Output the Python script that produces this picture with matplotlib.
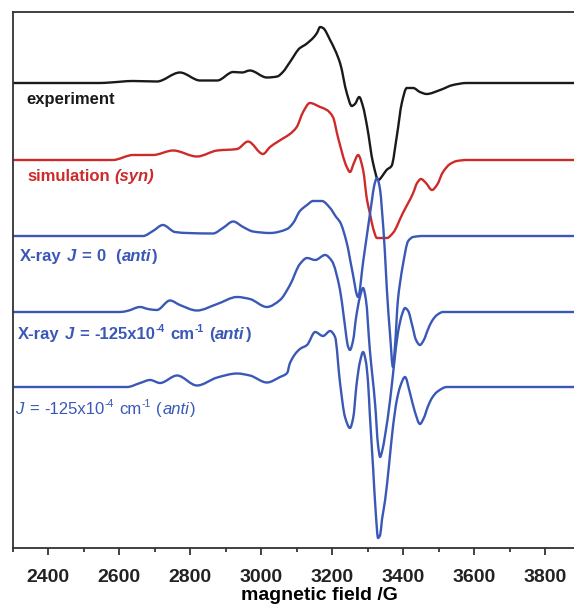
import numpy as np
import matplotlib.pyplot as plt
from matplotlib.path import Path
from matplotlib.patches import PathPatch
from matplotlib.ticker import MultipleLocator

W, H = 574, 604

# magnetic field (G) and signal (arbitrary units)
field_exp = [2300, 2546, 2574, 2639, 2706, 2771, 2828, 2876, 2921, 2946, 2968, 3016, 3045,
             3061, 3081, 3109, 3123, 3137, 3146, 3157, 3166, 3174, 3194, 3222, 3241, 3255,
             3264, 3276, 3287, 3298, 3315, 3330, 3343, 3353, 3367, 3382, 3396, 3410, 3428,
             3447, 3466, 3504, 3540, 3579, 3881]
exp = [0, 0, 0.5, 2, 1.5, 10.5, 2.5, 2.5, 11, 10.5, 12.5, 5.5, 6.5,
       11, 21, 35, 38, 42, 45, 50, 56, 55, 43, 20, -10, -23,
       -21, -14, -24, -43, -80, -97, -92, -87, -83, -53, -20, -5, -5,
       -9, -11, -7, -2, 0, 0]

field_sim = [2300, 2582, 2639, 2695, 2752, 2819, 2876, 2932, 2963, 3005, 3025, 3061, 3081,
             3100, 3118, 3137, 3166, 3185, 3202, 3216, 3241, 3250, 3261, 3273, 3287, 3298,
             3306, 3315, 3326, 3354, 3371, 3399, 3428, 3439, 3450, 3464, 3481, 3495, 3512,
             3532, 3551, 3579, 3881]
sim = [0, 0, 5, 5, 9.5, 3.5, 9.5, 11, 18.5, 6, 13, 21.5, 26,
       33, 48, 57, 53, 50, 43, 23, -7, -12, -3, 5, -10, -40,
       -53, -68, -78, -78, -73, -53, -33, -23, -19, -23, -30, -25, -12,
       -4, -1, 0, 0]

field_j0 = [2300, 2667, 2695, 2723, 2757, 2791, 2864, 2892, 2921, 2949, 2977, 3025, 3073,
            3090, 3109, 3129, 3146, 3171, 3194, 3211, 3222, 3241, 3256, 3273, 3287, 3301,
            3312, 3318, 3326, 3335, 3340, 3348, 3354, 3363, 3371, 3377, 3385, 3391, 3399,
            3414, 3428, 3455, 3881]
j0 = [0, 0, 5, 11, 4, 3, 2.5, 8, 14.5, 9, 4.5, 3, 7,
      13, 25, 31, 35, 35, 28, 19, 14, -7, -34, -61, -26, 9,
      36, 50, 58, 46, 26, -14, -54, -99, -131, -109, -64, -47, -29,
      -5, -1, 0, 0]

field_xj = [2300, 2602, 2622, 2659, 2681, 2706, 2743, 2771, 2819, 2876, 2932, 2968, 3016,
            3053, 3081, 3109, 3129, 3152, 3180, 3199, 3222, 3233, 3245, 3250, 3259, 3267,
            3278, 3287, 3295, 3306, 3321, 3329, 3335, 3340, 3349, 3363, 3374, 3385, 3397,
            3405, 3414, 3425, 3436, 3447, 3458, 3469, 3481, 3495, 3512, 3881]
xj = [0, 0, 1, 5, 3, 2, 11.5, 7, 1.5, 8, 15, 13, 5,
      12, 27, 48, 54, 52, 57, 51, 22, -6, -35, -38, -28, -6,
      15, 24, 12, -38, -93, -133, -145, -140, -123, -88, -53, -21, -2,
      4, 1, -13, -28, -33, -28, -18, -9, -3, 0, 0]

field_j = [2300, 2622, 2659, 2687, 2715, 2763, 2819, 2876, 2932, 2968, 3016, 3053, 3073,
           3081, 3109, 3129, 3152, 3174, 3194, 3208, 3222, 3236, 3250, 3259, 3269, 3278,
           3287, 3295, 3301, 3306, 3315, 3323, 3329, 3335, 3340, 3349, 3360, 3371, 3382,
           3391, 3405, 3419, 3433, 3447, 3458, 3469, 3481, 3495, 3523, 3881]
jj = [0, 0, 4, 7, 4, 11.5, 1.5, 9.5, 13.5, 11.5, 4.5, 10, 14,
      24, 38, 42, 55, 51, 56, 50, 4, -30, -41, -31, 4, 25,
      35, 25, 4, -28, -80, -128, -151, -148, -133, -113, -78, -40, -13,
      0, 10, -6, -25, -37, -31, -20, -11, -5, 0, 0]

tick_labels = ['2400', '2600', '2800', '3000', '3200', '3400', '3600', '3800']

BLACK = '#1a1a1a'
RED = '#cf2a2a'
BLUE = '#3a58b5'

plt.rcParams['font.family'] = ['Liberation Sans', 'DejaVu Sans']


def smooth_path(x, y):
    # bezier path through the read points (pchip-like tangents, no overshoot)
    x = np.asarray(x, float)
    y = np.asarray(y, float)
    h = np.diff(x)
    d = np.diff(y) / h
    m = np.zeros_like(y)
    m[0], m[-1] = d[0], d[-1]
    for k in range(1, len(x) - 1):
        if d[k - 1] * d[k] > 0:
            w1 = 2 * h[k] + h[k - 1]
            w2 = h[k] + 2 * h[k - 1]
            m[k] = (w1 + w2) / (w1 / d[k - 1] + w2 / d[k])
    verts = [(x[0], y[0])]
    codes = [Path.MOVETO]
    for k in range(len(x) - 1):
        verts += [(x[k] + h[k] / 3, y[k] + m[k] * h[k] / 3),
                  (x[k + 1] - h[k] / 3, y[k + 1] - m[k + 1] * h[k] / 3),
                  (x[k + 1], y[k + 1])]
        codes += [Path.CURVE4] * 3
    return Path(verts, codes)


fig = plt.figure(figsize=(W / 100, H / 100), dpi=100)
ax = fig.add_axes([12.7 / W, 56 / H, 1 - 12.7 / W, 536 / H])

# each trace shifted up by its own offset
traces = [
    (field_exp, exp, 465, BLACK),
    (field_sim, sim, 388, RED),
    (field_j0, j0, 312, BLUE),
    (field_xj, xj, 236, BLUE),
    (field_j, jj, 161, BLUE),
]
for f, s, off, c in traces:
    p = smooth_path(f, [v + off for v in s])
    ax.add_patch(PathPatch(p, facecolor='none', edgecolor=c, lw=1.7, joinstyle='round'))

ax.set_xlim(2300, 3881)
ax.set_ylim(0, 536)
ax.set_yticks([])
ax.xaxis.set_major_locator(MultipleLocator(200))
ax.xaxis.set_minor_locator(MultipleLocator(100))
ax.set_xticks([int(t) for t in tick_labels])
ax.set_xticklabels(tick_labels, fontsize=14, fontweight='bold')
ax.tick_params(axis='x', which='major', direction='out', length=5, width=1.2, pad=10, colors='#222')
ax.tick_params(axis='x', which='minor', direction='out', length=3, width=1.2, colors='#222')
ax.set_xlabel('magnetic field /G', fontsize=14, fontweight='bold', va='center')
ax.xaxis.set_label_coords((319 - 12.7) / 561.3, -(595 - 548) / 536)
for side in ['left', 'top', 'bottom']:
    ax.spines[side].set_linewidth(1.3)
    ax.spines[side].set_color('#333')
ax.spines['right'].set_visible(False)

# labels built piece by piece (mixed italic / superscripts), positions in pixels
renderer = fig.canvas.get_renderer()
FS = 12
SP = 0.278 * FS * 100 / 72


def label(x, y, parts, color, weight='bold'):
    for p in parts:
        if not isinstance(p, tuple):
            x += p * SP
            continue
        s, style = p
        kw = dict(color=color, fontweight=weight, fontsize=FS, va='baseline', ha='left')
        dy = 0
        if style == 'it':
            kw['fontstyle'] = 'italic'
        elif style == 'sup':
            kw['fontsize'] = FS * 0.62
            dy = 7
        t = fig.text(x / W, 1 - (y - dy) / H, s, **kw)
        x += t.get_window_extent(renderer).width + (1 if style == 'it' else 0.5)


label(26, 104, [('experiment', '')], BLACK)
label(27, 181, [('simulation', ''), 1, ('(syn)', 'it')], RED)
label(20, 261, [('X-ray', ''), 1, ('J', 'it'), 1, ('=', ''), 1, ('0', ''), 2,
                ('(', ''), ('anti', 'it'), (')', '')], BLUE)
label(18, 339, [('X-ray', ''), 1, ('J', 'it'), 1, ('=', ''), 1, ('-125x10', ''), ('-4', 'sup'), 1,
                ('cm', ''), ('-1', 'sup'), 1, ('(', ''), ('anti', 'it'), (')', '')], BLUE)
label(15, 414, [('J', 'it'), 1, ('=', ''), 1, ('-125x10', ''), ('-4', 'sup'), 1,
                ('cm', ''), ('-1', 'sup'), 1, ('(', ''), ('anti', 'it'), (')', '')], BLUE,
      weight='normal')

fig.savefig('out.png', dpi=100)
